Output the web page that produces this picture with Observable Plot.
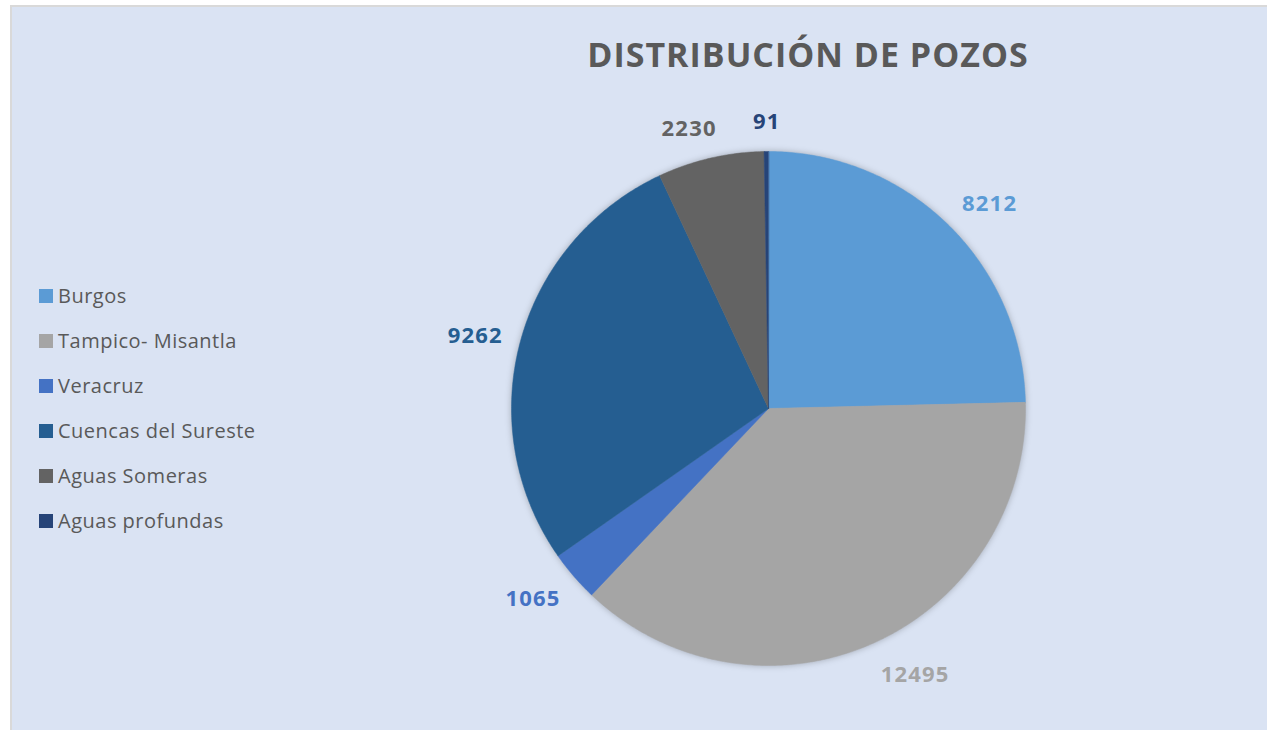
<!DOCTYPE html>
<html>
<head>
<meta charset="utf-8">
<script src="https://cdn.jsdelivr.net/npm/d3@7"></script>
<script src="https://cdn.jsdelivr.net/npm/@observablehq/plot@0.6"></script>
<style>
  html, body { margin: 0; padding: 0; background: #ffffff; }
  #wrap { position: relative; width: 1267px; height: 730px; overflow: hidden; font-family: "Open Sans", sans-serif; }
  #frame { position: absolute; left: 10px; top: 5px; width: 1300px; height: 800px; background: #dae3f3; border: 2px solid #d9d9d9; box-sizing: border-box; }
  #title { position: absolute; left: 808px; top: 37px; transform: translateX(-50%); font-size: 34px; letter-spacing: 1px; line-height: 1; font-weight: 700; color: #595959; white-space: nowrap; }
  #legend { position: absolute; left: 39px; top: 284px; }
  .item { display: flex; align-items: center; height: 45px; margin-top: -11px; margin-bottom: 11px; font-size: 20px; letter-spacing: 0.5px; line-height: 1; color: #595959; white-space: nowrap; }
  .sw { width: 14px; height: 14px; margin-right: 5px; flex: none; }
  #pie { position: absolute; left: 418px; top: 58px; }
</style>
</head>
<body>
<div id="wrap">
  <div id="frame"></div>
  <div id="pie"></div>
  <div id="title"></div>
  <div id="legend"></div>
</div>
<script>
const title = "DISTRIBUCIÓN DE POZOS";
const categories = ["Burgos", "Tampico- Misantla", "Veracruz", "Cuencas del Sureste", "Aguas Someras", "Aguas profundas"];
const values = [8212, 12495, 1065, 9262, 2230, 91];
const colors = ["#5b9bd5", "#a5a5a5", "#4472c4", "#255e91", "#636363", "#264478"];

document.getElementById("title").textContent = title;

// Legend
const legend = document.getElementById("legend");
categories.forEach((c, i) => {
  const row = document.createElement("div");
  row.className = "item";
  const sw = document.createElement("span");
  sw.className = "sw";
  sw.style.background = colors[i];
  const t = document.createElement("span");
  t.textContent = c;
  row.appendChild(sw); row.appendChild(t);
  legend.appendChild(row);
});

// Pie geometry from values
const R = 257;
const pie = d3.pie().sort(null).value(d => d.value)(categories.map((name, i) => ({name, value: values[i]})));

const slicePts = [];
pie.forEach(p => {
  const name = p.data.name;
  slicePts.push({name, x: 0, y: 0});
  const a0 = p.startAngle, a1 = p.endAngle;
  const n = Math.max(2, Math.ceil((a1 - a0) / (Math.PI / 360)));
  for (let k = 0; k <= n; k++) {
    const a = a0 + (a1 - a0) * k / n;
    slicePts.push({name, x: R * Math.sin(a), y: R * Math.cos(a)});
  }
});

// Outside-end label placement (box corner touching a ring just outside the pie)
const gap = 20, h = 24, cw = 13.3;
const clamp = v => Math.max(-1, Math.min(1, v));
const labels = pie.map(p => {
  const a = (p.startAngle + p.endAngle) / 2;
  const s = Math.sin(a), c = Math.cos(a);
  const txt = String(p.data.value);
  const w = txt.length * cw;
  return {
    name: p.data.name,
    text: txt,
    x: (R + gap) * s + clamp(s * 3) * w / 2,
    y: (R + gap) * c + c * h / 2
  };
});

const chart = Plot.plot({
  width: 700,
  height: 700,
  margin: 0,
  x: {domain: [-350, 350], axis: null},
  y: {domain: [-350, 350], axis: null},
  color: {domain: categories, range: colors},
  style: {background: "transparent", overflow: "visible"},
  marks: [
    Plot.line(slicePts, {x: "x", y: "y", z: "name", fill: "name", stroke: "name", strokeWidth: 0.5, curve: "linear-closed"}),
    Plot.text(labels, {x: "x", y: "y", text: "text", fill: "name", fontSize: 22, fontWeight: 700, fontFamily: "Open Sans", textAnchor: "middle", lineAnchor: "middle", dx: 1, dy: 2})
  ]
});
const lineG = chart.querySelector('g[aria-label="line"]');
if (lineG) lineG.style.filter = "drop-shadow(0 0 3px rgba(0,0,0,0.25))";
const textG = chart.querySelector('g[aria-label="text"]');
if (textG) textG.style.letterSpacing = "1.2px";
document.getElementById("pie").appendChild(chart);
</script>
</body>
</html>
